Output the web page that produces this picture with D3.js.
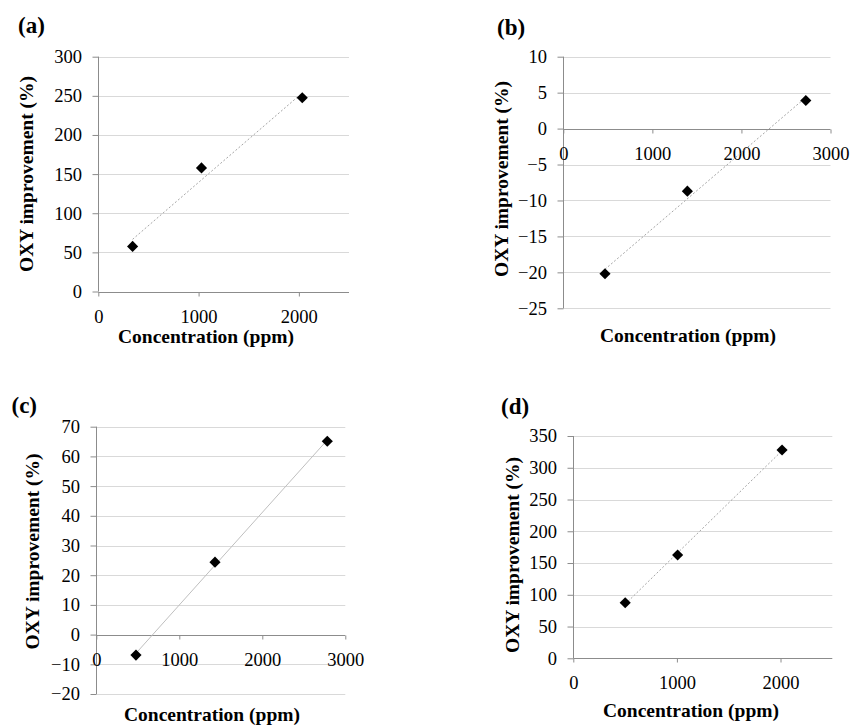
<!DOCTYPE html>
<html>
<head>
<meta charset="utf-8">
<script src="https://cdn.jsdelivr.net/npm/d3@7"></script>
<style>
  html, body { margin: 0; padding: 0; background: #fff; }
  svg { display: block; font-family: "Liberation Serif", "Times New Roman", serif; }
  .grid line { stroke: #d9d9d9; stroke-width: 1; }
  .axis path, .axis line { stroke: #8c8c8c; stroke-width: 1; }
  .axis text { font-size: 18.5px; fill: #000; font-family: "Liberation Serif", "Times New Roman", serif; }
  .title { font-size: 19.5px; font-weight: bold; fill: #000; }
  .panel-label { font-size: 23px; font-weight: bold; fill: #000; }
</style>
</head>
<body>
<svg id="chart" width="851" height="726"></svg>
<script>
// ---- data ----
const panelLabels = ["(a)", "(b)", "(c)", "(d)"];
const xTitle = "Concentration (ppm)";
const yTitle = "OXY improvement (%)";

const concA = [342, 1029, 2034];
const oxyA  = [57.6, 157.9, 247.5];
const concB = [468, 1393, 2723];
const oxyB  = [-20.2, -8.7, 3.9];
const concC = [478, 1430, 2783];
const oxyC  = [-6.9, 24.4, 65.1];
const concD = [501, 1007, 2015];
const oxyD  = [87.5, 162.7, 328];

const xDomainA = [0, 2500], yDomainA = [0, 300];
const xDomainB = [0, 3000], yDomainB = [-25, 10];
const xDomainC = [0, 3000], yDomainC = [-20, 70];
const xDomainD = [0, 2500], yDomainD = [0, 350];

const xTicksA = [0, 1000, 2000];
const yTicksA = [0, 50, 100, 150, 200, 250, 300];
const xTicksB = [0, 1000, 2000, 3000];
const yTicksB = [-25, -20, -15, -10, -5, 0, 5, 10];
const xTicksC = [0, 1000, 2000, 3000];
const yTicksC = [-20, -10, 0, 10, 20, 30, 40, 50, 60, 70];
const xTicksD = [0, 1000, 2000];
const yTicksD = [0, 50, 100, 150, 200, 250, 300, 350];

// ---- layout of each panel (pixels) ----
const layouts = [
  { left: 98.3, top: 56.7, right: 349, bottom: 291.5,
    label: [18, 33], yTitle: [32.5, 174], xTitle: [206, 343], trend: "dotted" },
  { left: 563.3, top: 56.7, right: 830.5, bottom: 308.3,
    label: [497, 35], yTitle: [508, 179], xTitle: [688, 342], trend: "dotted" },
  { left: 96.3, top: 426.7, right: 345.3, bottom: 694,
    label: [11.5, 413], yTitle: [39, 551.5], xTitle: [212, 721], trend: "solid" },
  { left: 573.3, top: 436, right: 832.3, bottom: 658.3,
    label: [501, 413.5], yTitle: [519, 555], xTitle: [691, 716.5], trend: "dotted" }
];

const panels = [
  { label: panelLabels[0], xs: concA, ys: oxyA, xd: xDomainA, yd: yDomainA, xt: xTicksA, yt: yTicksA },
  { label: panelLabels[1], xs: concB, ys: oxyB, xd: xDomainB, yd: yDomainB, xt: xTicksB, yt: yTicksB },
  { label: panelLabels[2], xs: concC, ys: oxyC, xd: xDomainC, yd: yDomainC, xt: xTicksC, yt: yTicksC },
  { label: panelLabels[3], xs: concD, ys: oxyD, xd: xDomainD, yd: yDomainD, xt: xTicksD, yt: yTicksD }
];

// least-squares line through a panel's points
function fitLine(xs, ys) {
  const mx = d3.mean(xs), my = d3.mean(ys);
  let sxy = 0, sxx = 0;
  xs.forEach((x, i) => { sxy += (x - mx) * (ys[i] - my); sxx += (x - mx) * (x - mx); });
  const slope = sxy / sxx;
  return x => my + slope * (x - mx);
}

const svg = d3.select("#chart");
const diamond = d3.symbol().type(d3.symbolSquare).size(62)();

panels.forEach((p, i) => {
  const L = layouts[i];
  const x = d3.scaleLinear().domain(p.xd).range([L.left, L.right]);
  const y = d3.scaleLinear().domain(p.yd).range([L.bottom, L.top]);
  const g = svg.append("g");

  // horizontal gridlines
  g.append("g").attr("class", "grid")
    .selectAll("line").data(p.yt.filter(v => v !== 0)).join("line")
    .attr("x1", L.left).attr("x2", L.right)
    .attr("y1", d => Math.round(y(d)) + 0.5).attr("y2", d => Math.round(y(d)) + 0.5);

  // y axis
  const yAxis = g.append("g").attr("class", "axis")
    .attr("transform", `translate(${Math.round(L.left) + 0.5},0)`)
    .call(d3.axisLeft(y).tickValues(p.yt).tickSize(6).tickSizeOuter(0).tickPadding(10.5)
      .tickFormat(d3.format("d")));
  yAxis.select(".domain").remove();
  yAxis.append("line").attr("x1", 0).attr("x2", 0)
    .attr("y1", L.top).attr("y2", L.bottom).attr("stroke", "#8c8c8c");

  // x axis sits on the zero line
  const xAxis = g.append("g").attr("class", "axis")
    .attr("transform", `translate(0,${Math.round(y(0)) + 0.5})`)
    .call(d3.axisBottom(x).tickValues(p.xt).tickSize(4).tickSizeOuter(0).tickPadding(13)
      .tickFormat(d3.format("d")));
  xAxis.select(".domain").attr("d", `M${L.left},0H${L.right}`);

  // trend line over the data range
  const f = fitLine(p.xs, p.ys);
  const x0 = d3.min(p.xs), x1 = d3.max(p.xs);
  g.append("line")
    .attr("x1", x(x0)).attr("y1", y(f(x0)))
    .attr("x2", x(x1)).attr("y2", y(f(x1)))
    .attr("stroke", L.trend === "solid" ? "#bfbfbf" : "#a6a6a6")
    .attr("stroke-width", 1)
    .attr("stroke-dasharray", L.trend === "solid" ? null : "2,2");

  // markers
  g.append("g").selectAll("path").data(p.xs.map((v, k) => [v, p.ys[k]])).join("path")
    .attr("d", diamond)
    .attr("transform", d => `translate(${x(d[0])},${y(d[1])}) rotate(45)`)
    .attr("fill", "#000");

  // titles
  g.append("text").attr("class", "title")
    .attr("text-anchor", "middle")
    .attr("x", L.xTitle[0]).attr("y", L.xTitle[1])
    .text(xTitle);
  g.append("text").attr("class", "title")
    .attr("text-anchor", "middle")
    .attr("transform", `translate(${L.yTitle[0]},${L.yTitle[1]}) rotate(-90)`)
    .text(yTitle);
  g.append("text").attr("class", "panel-label")
    .attr("x", L.label[0]).attr("y", L.label[1])
    .text(p.label);
});
</script>
</body>
</html>
